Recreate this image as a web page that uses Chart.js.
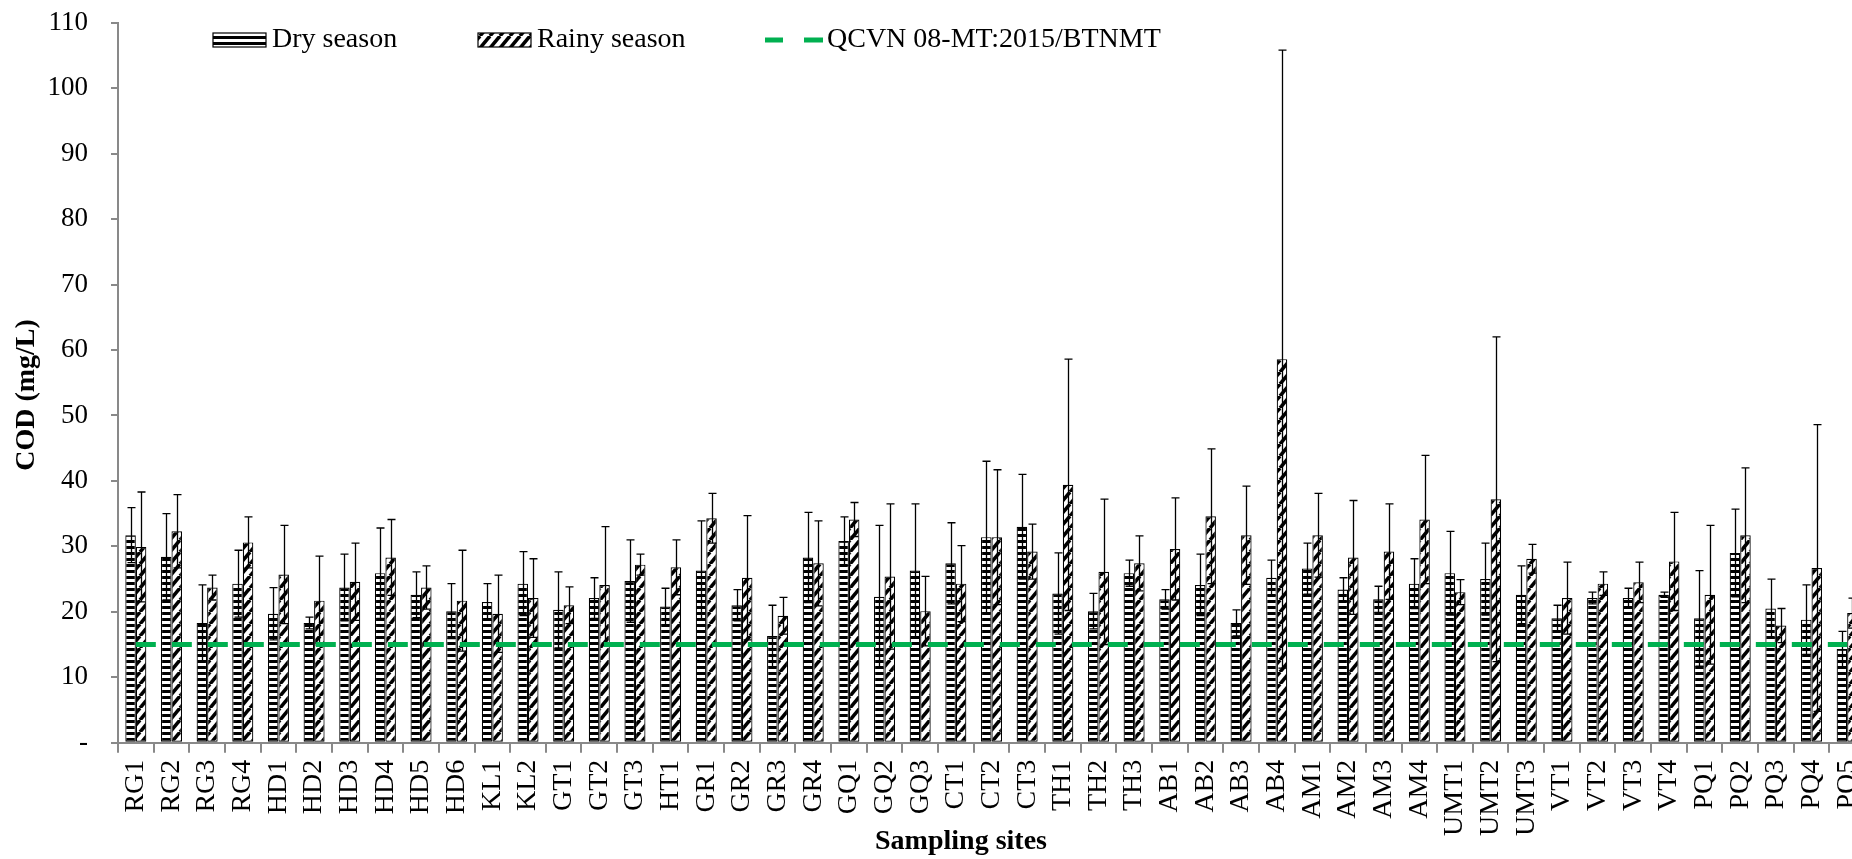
<!DOCTYPE html>
<html><head><meta charset="utf-8">
<script src="https://cdn.jsdelivr.net/npm/chart.js@4.4.1/dist/chart.umd.min.js"></script>
<style>
html,body{margin:0;padding:0;overflow:hidden;background:#fff;width:1852px;height:859px}
#wrap{width:1880px;height:859px;position:relative}
canvas{display:block}
</style></head><body><div id="wrap"><canvas id="c" width="1880" height="859" style="width:1880px;height:859px"></canvas></div>
<script>
const sites = ["RG1","RG2","RG3","RG4","HD1","HD2","HD3","HD4","HD5","HD6","KL1","KL2","GT1","GT2","GT3","HT1","GR1","GR2","GR3","GR4","GQ1","GQ2","GQ3","CT1","CT2","CT3","TH1","TH2","TH3","AB1","AB2","AB3","AB4","AM1","AM2","AM3","AM4","UMT1","UMT2","UMT3","VT1","VT2","VT3","VT4","PQ1","PQ2","PQ3","PQ4","PQ5"];
const dryMean = [31.7,28.4,18.3,24.3,19.7,18.3,23.7,25.9,22.6,20.1,21.5,24.3,20.3,22.1,24.7,20.8,26.3,21.0,16.3,28.3,30.8,22.3,26.3,27.4,31.4,33.0,22.8,20.1,25.9,21.9,24.1,18.3,25.2,26.6,23.4,21.9,24.3,25.9,25.0,22.6,19.0,22.1,22.1,22.6,19.0,29.0,20.5,18.8,14.3];
const drySD = [4.2,6.6,5.8,5.1,4.0,0.9,5.1,6.9,3.5,4.2,2.8,4.9,5.8,3.1,6.3,2.8,7.6,2.4,4.7,6.9,3.7,10.9,10.2,6.2,11.6,8.0,6.2,2.7,2.0,1.5,4.7,2.0,2.7,3.9,1.8,2.0,3.8,6.4,5.5,4.4,2.0,0.9,1.5,0.4,7.3,6.7,4.5,5.3,2.7];
const rainyMean = [29.9,32.3,23.7,30.6,25.7,21.7,24.6,28.3,23.7,21.7,19.7,22.1,21.0,24.1,27.2,26.8,34.3,25.2,19.4,27.4,34.1,25.4,20.1,24.3,31.4,29.2,39.4,26.1,27.4,29.6,34.6,31.7,58.6,31.7,28.3,29.2,34.1,23.0,37.2,28.1,22.1,24.3,24.5,27.7,22.6,31.7,17.9,26.7,19.8];
const rainySD = [8.4,5.6,1.9,3.9,7.5,6.8,5.9,5.8,3.3,7.7,5.9,6.0,2.8,8.9,1.6,4.2,3.8,9.5,2.8,6.5,2.6,11.1,5.3,5.8,10.3,4.2,19.2,11.1,4.2,7.8,10.3,7.5,47.2,6.4,8.7,7.3,9.8,1.9,24.8,2.2,5.5,1.8,3.1,7.5,10.6,10.3,2.6,21.9,2.3];
const standardLimit = sites.map(() => 15);
const seriesNames = ["Dry season","Rainy season","QCVN 08-MT:2015/BTNMT"];
const yAxisTitle = "COD (mg/L)";
const xAxisTitle = "Sampling sites";

const SERIF = "'Liberation Serif','Times New Roman',serif";
const AXIS_GREY = '#898989';
const GREEN = '#00B050';

function makeDryPattern(){
  const c=document.createElement('canvas'); c.width=6; c.height=6;
  const g=c.getContext('2d');
  g.fillStyle='#fff'; g.fillRect(0,0,6,6);
  g.fillStyle='#000'; g.fillRect(0,0,6,3);
  return g.createPattern(c,'repeat');
}
function makeRainyPattern(){
  const w=10,h=12;
  const c=document.createElement('canvas'); c.width=w; c.height=h;
  const g=c.getContext('2d');
  g.fillStyle='#fff'; g.fillRect(0,0,w,h);
  g.strokeStyle='#000'; g.lineWidth=3.6;
  for(const dx of [-w,0,w]){ g.beginPath(); g.moveTo(dx,h); g.lineTo(dx+w,0); g.stroke(); }
  return g.createPattern(c,'repeat');
}
const dryFill = makeDryPattern();
const rainyFill = makeRainyPattern();

const errorBars = {
  id:'errorBars',
  afterDatasetDraw(chart,args){
    const ds = chart.data.datasets[args.index];
    if(!ds.errors) return;
    const y = chart.scales.y, ctx = chart.ctx;
    ctx.save();
    ctx.strokeStyle='#000'; ctx.lineWidth=1.3;
    args.meta.data.forEach((bar,i)=>{
      const m = ds.data[i], e = ds.errors[i];
      const x = Math.round(bar.x)+0.5;
      const yt = y.getPixelForValue(m+e), yb = y.getPixelForValue(m-e);
      ctx.beginPath();
      ctx.moveTo(x,yt); ctx.lineTo(x,yb);
      ctx.moveTo(x-4,yt); ctx.lineTo(x+4,yt);
      ctx.moveTo(x-4,yb); ctx.lineTo(x+4,yb);
      ctx.stroke();
    });
    ctx.restore();
  }
};

const customText = {
  id:'customText',
  afterDraw(chart){
    const ctx = chart.ctx;
    const ds = chart.data.datasets;
    ctx.save();
    const ly = 40;
    ctx.font = "28px "+SERIF; ctx.textBaseline='middle'; ctx.textAlign='left';
    ctx.fillStyle = dryFill; ctx.fillRect(213,ly-7,53,14);
    ctx.strokeStyle='#000'; ctx.lineWidth=1.2; ctx.strokeRect(213,ly-7,53,14);
    ctx.fillStyle='#000'; ctx.fillText(ds[1].label,272,ly);
    ctx.fillStyle = rainyFill; ctx.fillRect(478,ly-7,53,14);
    ctx.strokeRect(478,ly-7,53,14);
    ctx.fillStyle='#000'; ctx.fillText(ds[2].label,537,ly);
    ctx.strokeStyle=GREEN; ctx.lineWidth=5;
    ctx.beginPath(); ctx.moveTo(765,ly); ctx.lineTo(783,ly); ctx.moveTo(804,ly); ctx.lineTo(823,ly); ctx.stroke();
    ctx.fillStyle='#000'; ctx.fillText(ds[0].label,827,ly);
    ctx.font = "bold 28px "+SERIF; ctx.textAlign='center';
    ctx.fillText(xAxisTitle, 961, 842);
    ctx.translate(27,395); ctx.rotate(-Math.PI/2);
    ctx.fillText(yAxisTitle, 0, 0);
    ctx.restore();
  }
};

new Chart(document.getElementById('c'), {
  type:'bar',
  data:{
    labels: sites,
    datasets:[
      {type:'line', label:seriesNames[2], data:standardLimit, borderColor:GREEN, borderWidth:5, borderDash:[20,16], pointRadius:0, fill:false, order:0},
      {label:seriesNames[0], data:dryMean, errors:drySD, backgroundColor:dryFill, borderColor:'#000', borderWidth:1.2, borderSkipped:false, order:1},
      {label:seriesNames[1], data:rainyMean, errors:rainySD, backgroundColor:rainyFill, borderColor:'#000', borderWidth:1.2, borderSkipped:false, order:2}
    ]
  },
  options:{
    responsive:false, animation:false, devicePixelRatio:1,
    layout:{padding:{top:22.7,right:15,left:0,bottom:0}},
    datasets:{bar:{categoryPercentage:0.59, barPercentage:1.0}},
    plugins:{legend:{display:false}, tooltip:{enabled:false}},
    scales:{
      x:{
        offset:true,
        grid:{display:true, drawOnChartArea:false, drawTicks:true, tickLength:10, color:AXIS_GREY, lineWidth:2, offset:true},
        border:{display:true, color:AXIS_GREY, width:2},
        ticks:{autoSkip:false, minRotation:90, maxRotation:90, padding:7, color:'#000', font:{family:SERIF, size:28}},
        afterFit(s){ s.height = 116.3; s.paddingLeft = 0; s.paddingRight = 0; }
      },
      y:{
        min:0, max:110,
        grid:{display:true, drawOnChartArea:false, drawTicks:true, tickLength:7, color:AXIS_GREY, lineWidth:2},
        border:{display:true, color:AXIS_GREY, width:2},
        ticks:{stepSize:10, padding:23, color:'#000', font:{family:SERIF, size:27},
          callback:(v)=> v===0 ? '-' : String(v)},
        afterFit(s){ s.width = 118; s.paddingTop = 0; s.paddingBottom = 0; }
      }
    }
  },
  plugins:[errorBars, customText]
});
</script></body></html>
